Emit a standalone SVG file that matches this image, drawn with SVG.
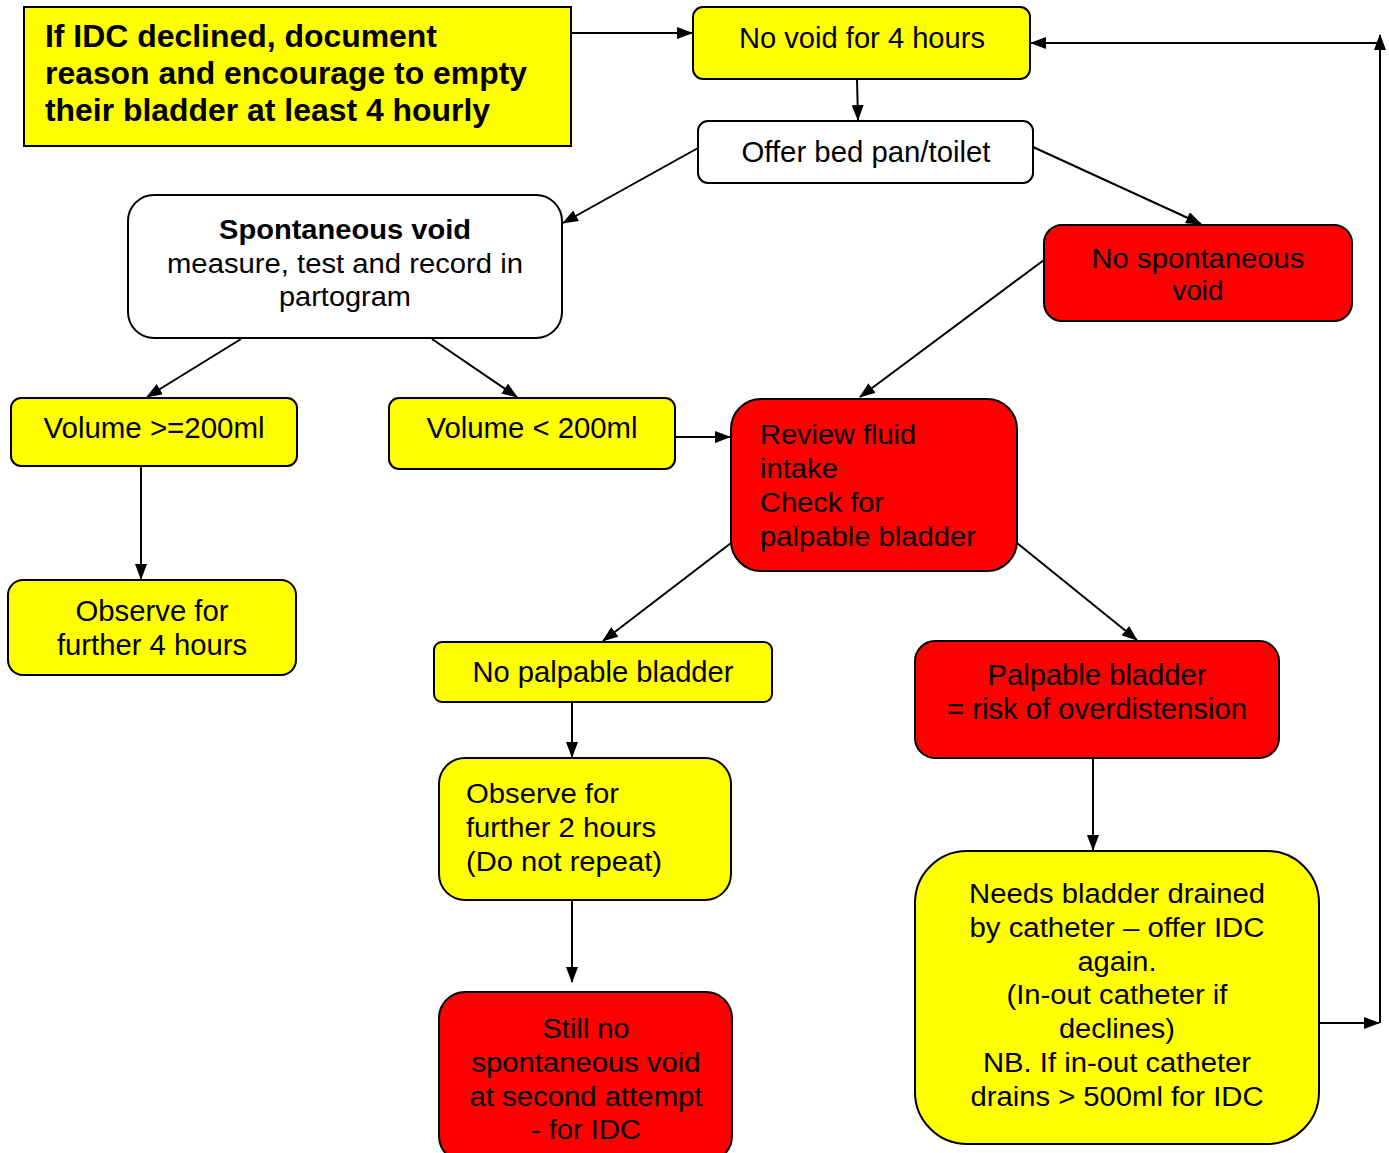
<svg xmlns="http://www.w3.org/2000/svg" width="1389" height="1153" viewBox="0 0 1389 1153">
<defs>
<marker id="ah" markerUnits="userSpaceOnUse" markerWidth="16" markerHeight="12" refX="15" refY="6" orient="auto">
<path d="M0,0 L16,6 L0,12 Z" fill="#000"/>
</marker>
<style>
.box{stroke:#000;stroke-width:2}
.y{fill:#FFFF00}
.r{fill:#FF0000}
.w{fill:#FFFFFF}
text{font-family:"Liberation Sans",Arial,sans-serif;font-size:27px;fill:#000}
.c{text-anchor:middle}
.n{font-size:29px}
.b{font-weight:bold;font-size:32px}
.cn{stroke:#000;stroke-width:2;fill:none;marker-end:url(#ah)}
</style>
</defs>
<rect width="1389" height="1153" fill="#fff"/>

<g id="connectors">
<line class="cn" x1="571" y1="33" x2="692" y2="33"/>
<line class="cn" x1="857" y1="79" x2="858" y2="120"/>
<line class="cn" x1="698" y1="148" x2="563" y2="223"/>
<line class="cn" x1="1033" y1="147" x2="1201" y2="224"/>
<line class="cn" x1="1044" y1="260" x2="860" y2="397"/>
<line class="cn" x1="241" y1="339" x2="147" y2="397"/>
<line class="cn" x1="432" y1="339" x2="517" y2="397"/>
<line class="cn" x1="141" y1="466" x2="141" y2="579"/>
<line class="cn" x1="675" y1="437" x2="730" y2="437"/>
<line class="cn" x1="731" y1="543" x2="603" y2="641"/>
<line class="cn" x1="1017" y1="543" x2="1137" y2="640"/>
<line class="cn" x1="572" y1="702" x2="572" y2="757"/>
<line class="cn" x1="572" y1="900" x2="572" y2="982"/>
<line class="cn" x1="1093" y1="758" x2="1093" y2="850"/>
<line class="cn" x1="1319" y1="1023" x2="1379" y2="1023"/>
<line class="cn" x1="1380" y1="1023" x2="1380" y2="35"/>
<line class="cn" x1="1380" y1="43" x2="1031" y2="43"/>
</g>

<g id="n-idc-declined">
<rect class="box y" x="24" y="7" width="547" height="139"/>
<text class="b" x="45" y="47" textLength="392" lengthAdjust="spacingAndGlyphs">If IDC declined, document</text>
<text class="b" x="45" y="84" textLength="482" lengthAdjust="spacingAndGlyphs">reason and encourage to empty</text>
<text class="b" x="45" y="121" textLength="445" lengthAdjust="spacingAndGlyphs">their bladder at least 4 hourly</text>
</g>

<g id="n-no-void">
<rect class="box y" x="693" y="7" width="337" height="72" rx="10"/>
<text class="c n" x="862" y="48" font-size="30" textLength="246" lengthAdjust="spacingAndGlyphs">No void for 4 hours</text>
</g>

<g id="n-offer">
<rect class="box w" x="698" y="121" width="335" height="62" rx="10"/>
<text class="c n" x="866" y="162" font-size="30" textLength="249" lengthAdjust="spacingAndGlyphs">Offer bed pan/toilet</text>
</g>

<g id="n-spontaneous">
<rect class="box w" x="128" y="195" width="434" height="143" rx="26"/>
<text class="c" x="345" y="239" font-weight="bold" textLength="252" lengthAdjust="spacingAndGlyphs">Spontaneous void</text>
<text class="c" x="345" y="273" textLength="356" lengthAdjust="spacingAndGlyphs">measure, test and record in</text>
<text class="c" x="345" y="306" textLength="132" lengthAdjust="spacingAndGlyphs">partogram</text>
</g>

<g id="n-no-spontaneous">
<rect class="box r" x="1044" y="225" width="308" height="96" rx="18"/>
<text class="c" x="1198" y="268" textLength="213" lengthAdjust="spacingAndGlyphs">No spontaneous</text>
<text class="c" x="1198" y="300" textLength="51" lengthAdjust="spacingAndGlyphs">void</text>
</g>

<g id="n-vol-ge">
<rect class="box y" x="11" y="398" width="286" height="68" rx="10"/>
<text class="c n" x="154" y="438" textLength="221" lengthAdjust="spacingAndGlyphs">Volume &gt;=200ml</text>
</g>

<g id="n-vol-lt">
<rect class="box y" x="389" y="398" width="286" height="71" rx="10"/>
<text class="c n" x="532" y="438" textLength="211" lengthAdjust="spacingAndGlyphs">Volume &lt; 200ml</text>
</g>

<g id="n-review">
<rect class="box r" x="731" y="399" width="286" height="172" rx="30"/>
<text x="760" y="444" textLength="156" lengthAdjust="spacingAndGlyphs">Review fluid</text>
<text x="760" y="478" textLength="78" lengthAdjust="spacingAndGlyphs">intake</text>
<text x="760" y="512" textLength="124" lengthAdjust="spacingAndGlyphs">Check for</text>
<text x="760" y="546" textLength="216" lengthAdjust="spacingAndGlyphs">palpable bladder</text>
</g>

<g id="n-observe4">
<rect class="box y" x="8" y="580" width="288" height="95" rx="15"/>
<text class="c n" x="152" y="621" textLength="153" lengthAdjust="spacingAndGlyphs">Observe for</text>
<text class="c n" x="152" y="655" textLength="190" lengthAdjust="spacingAndGlyphs">further 4 hours</text>
</g>

<g id="n-no-palpable">
<rect class="box y" x="434" y="642" width="338" height="60" rx="8"/>
<text class="c n" x="603" y="682" textLength="261" lengthAdjust="spacingAndGlyphs">No palpable bladder</text>
</g>

<g id="n-palpable">
<rect class="box r" x="915" y="641" width="364" height="117" rx="20"/>
<text class="c n" x="1097" y="685" textLength="219" lengthAdjust="spacingAndGlyphs">Palpable bladder</text>
<text class="c n" x="1097" y="719" textLength="300" lengthAdjust="spacingAndGlyphs">= risk of overdistension</text>
</g>

<g id="n-observe2">
<rect class="box y" x="439" y="758" width="292" height="142" rx="26"/>
<text x="466" y="803" textLength="153" lengthAdjust="spacingAndGlyphs">Observe for</text>
<text x="466" y="837" textLength="190" lengthAdjust="spacingAndGlyphs">further 2 hours</text>
<text x="466" y="871" textLength="196" lengthAdjust="spacingAndGlyphs">(Do not repeat)</text>
</g>

<g id="n-still-no">
<rect class="box r" x="439" y="992" width="293" height="170" rx="26"/>
<text class="c" x="586" y="1038" textLength="87" lengthAdjust="spacingAndGlyphs">Still no</text>
<text class="c" x="586" y="1072" textLength="229" lengthAdjust="spacingAndGlyphs">spontaneous void</text>
<text class="c" x="586" y="1106" textLength="233" lengthAdjust="spacingAndGlyphs">at second attempt</text>
<text class="c" x="586" y="1139" textLength="110" lengthAdjust="spacingAndGlyphs">- for IDC</text>
</g>

<g id="n-needs-drained">
<rect class="box y" x="915" y="851" width="404" height="293" rx="52"/>
<text class="c" x="1117" y="903" textLength="296" lengthAdjust="spacingAndGlyphs">Needs bladder drained</text>
<text class="c" x="1117" y="937" textLength="295" lengthAdjust="spacingAndGlyphs">by catheter – offer IDC</text>
<text class="c" x="1117" y="971" textLength="79" lengthAdjust="spacingAndGlyphs">again.</text>
<text class="c" x="1117" y="1004" textLength="221" lengthAdjust="spacingAndGlyphs">(In-out catheter if</text>
<text class="c" x="1117" y="1038" textLength="116" lengthAdjust="spacingAndGlyphs">declines)</text>
<text class="c" x="1117" y="1072" textLength="268" lengthAdjust="spacingAndGlyphs">NB. If in-out catheter</text>
<text class="c" x="1117" y="1106" textLength="293" lengthAdjust="spacingAndGlyphs">drains &gt; 500ml for IDC</text>
</g>
</svg>
